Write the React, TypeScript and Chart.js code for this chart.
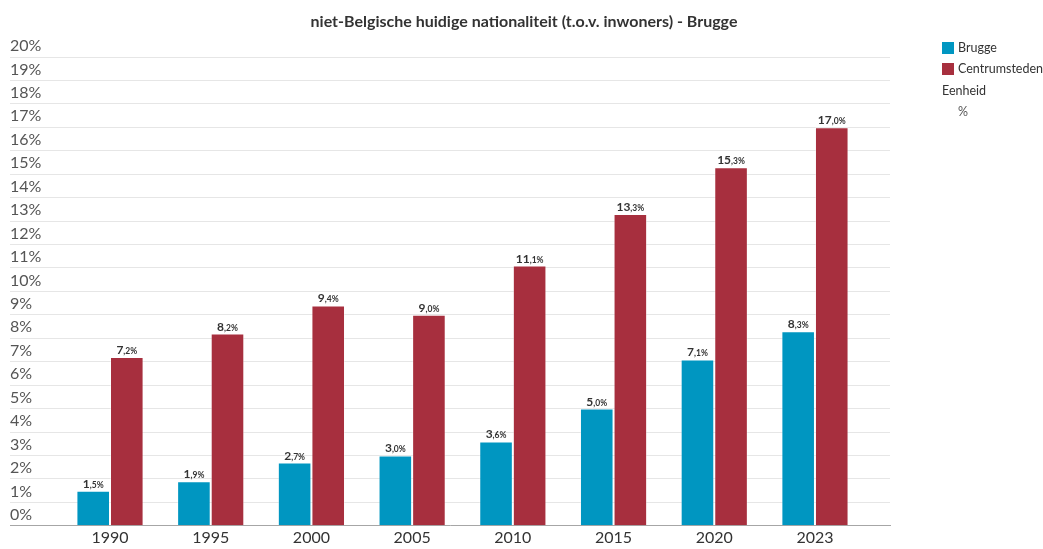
import React, { useEffect, useRef } from "react";
import { Chart, registerables } from "chart.js";

Chart.register(...registerables);

const years = ["1990", "1995", "2000", "2005", "2010", "2015", "2020", "2023"];
const bruggeValues = [1.5, 1.9, 2.7, 3.0, 3.6, 5.0, 7.1, 8.3];
const centrumValues = [7.2, 8.2, 9.4, 9.0, 11.1, 13.3, 15.3, 17.0];
const seriesNames = ["Brugge", "Centrumsteden"];
const seriesColors = ["#0096c1", "#a72f3e"];
const titleText = "niet-Belgische huidige nationaliteit (t.o.v. inwoners) - Brugge";
const unitLabel = "Eenheid";
const unitValue = "%";

const FONT = "Lato, 'Noto Sans', sans-serif";

const dataLabelPlugin = {
  id: "dataLabels",
  afterDatasetsDraw(chart: any) {
    const ctx = chart.ctx;
    ctx.save();
    ctx.fillStyle = "#333333";
    ctx.textBaseline = "alphabetic";
    chart.data.datasets.forEach((ds: any, di: number) => {
      const meta = chart.getDatasetMeta(di);
      meta.data.forEach((el: any, i: number) => {
        const v = ds.data[i].y as number;
        const parts = v.toFixed(1).split(".");
        const big = parts[0];
        const small = "," + parts[1] + "%";
        ctx.font = `bold 12px ${FONT}`;
        const wb = ctx.measureText(big).width;
        ctx.font = `bold 8.5px ${FONT}`;
        const ws = ctx.measureText(small).width;
        const total = wb + ws;
        const x0 = el.x - total / 2;
        const y0 = el.y - 3;
        ctx.textAlign = "left";
        ctx.font = `bold 12px ${FONT}`;
        ctx.fillText(big, x0, y0);
        ctx.font = `bold 8.5px ${FONT}`;
        ctx.fillText(small, x0 + wb, y0);
      });
    });
    ctx.restore();
  },
};

const legendPlugin = {
  id: "customLegend",
  afterDraw(chart: any) {
    const ctx = chart.ctx;
    ctx.save();
    // title, centred on the page
    ctx.textAlign = "center";
    ctx.textBaseline = "alphabetic";
    ctx.fillStyle = "#333333";
    ctx.font = `bold 16px ${FONT}`;
    ctx.fillText(titleText, 524, 27);

    const bx = 942;
    const tx = 958;
    ctx.textBaseline = "middle";
    ctx.textAlign = "left";
    ctx.font = `12.5px ${FONT}`;
    chart.data.datasets.forEach((ds: any, i: number) => {
      const cy = 48 + i * 21;
      ctx.fillStyle = ds.backgroundColor;
      ctx.fillRect(bx, cy - 6, 12, 12);
      ctx.fillStyle = "#333333";
      ctx.fillText(ds.label, tx, cy);
    });
    ctx.fillStyle = "#333333";
    ctx.fillText(unitLabel, 942, 91);
    ctx.fillStyle = "#555555";
    ctx.fillText(unitValue, 958, 112);
    ctx.restore();
  },
};

export default function App() {
  const ref = useRef<HTMLCanvasElement | null>(null);

  useEffect(() => {
    if (!ref.current) return;
    const chart = new Chart(ref.current, {
      type: "bar",
      data: {
        datasets: [
          {
            label: seriesNames[0],
            data: bruggeValues.map((v, i) => ({ x: i, y: v })),
            backgroundColor: seriesColors[0],
            borderColor: "rgba(255,255,255,0.4)",
            borderWidth: 1,
            categoryPercentage: 0.667,
            barPercentage: 1,
          },
          {
            label: seriesNames[1],
            data: centrumValues.map((v, i) => ({ x: i, y: v })),
            backgroundColor: seriesColors[1],
            borderColor: "rgba(255,255,255,0.4)",
            borderWidth: 1,
            categoryPercentage: 0.667,
            barPercentage: 1,
          },
        ],
      } as any,
      options: {
        animation: false,
        responsive: false,
        layout: { padding: { left: 10, right: 153, top: 57, bottom: 0 } },
        plugins: {
          legend: { display: false },
          tooltip: { enabled: false },
          title: { display: false },
        },
        scales: {
          x: {
            type: "linear",
            offset: false,
            min: -0.993,
            max: 7.745,
            grid: { display: false, drawTicks: false, offset: false },
            border: { display: true, color: "#a6a6a6", width: 1 },
            afterBuildTicks: (scale: any) => {
              scale.ticks = years.map((_, i) => ({ value: i }));
            },
            ticks: {
              padding: 2,
              color: "#333333",
              font: { family: FONT, size: 16 },
              maxRotation: 0,
              autoSkip: false,
              callback: (v: any) => years[v as number] ?? "",
            },
          },
          y: {
            min: 0,
            max: 20,
            grid: { color: "#e6e6e6", drawTicks: false },
            border: { display: false },
            ticks: {
              stepSize: 1,
              mirror: true,
              padding: 0,
              labelOffset: -11,
              color: "#555555",
              font: { family: FONT, size: 16 },
              callback: (v: any) => `${v}%`,
            },
          },
        },
      } as any,
      plugins: [dataLabelPlugin, legendPlugin],
    });
    return () => chart.destroy();
  }, []);

  return (
    <div style={{ position: "fixed", left: 0, top: 0, width: 1043, height: 549, background: "#ffffff" }}>
      <canvas ref={ref} width={1043} height={549} style={{ display: "block" }} />
    </div>
  );
}
